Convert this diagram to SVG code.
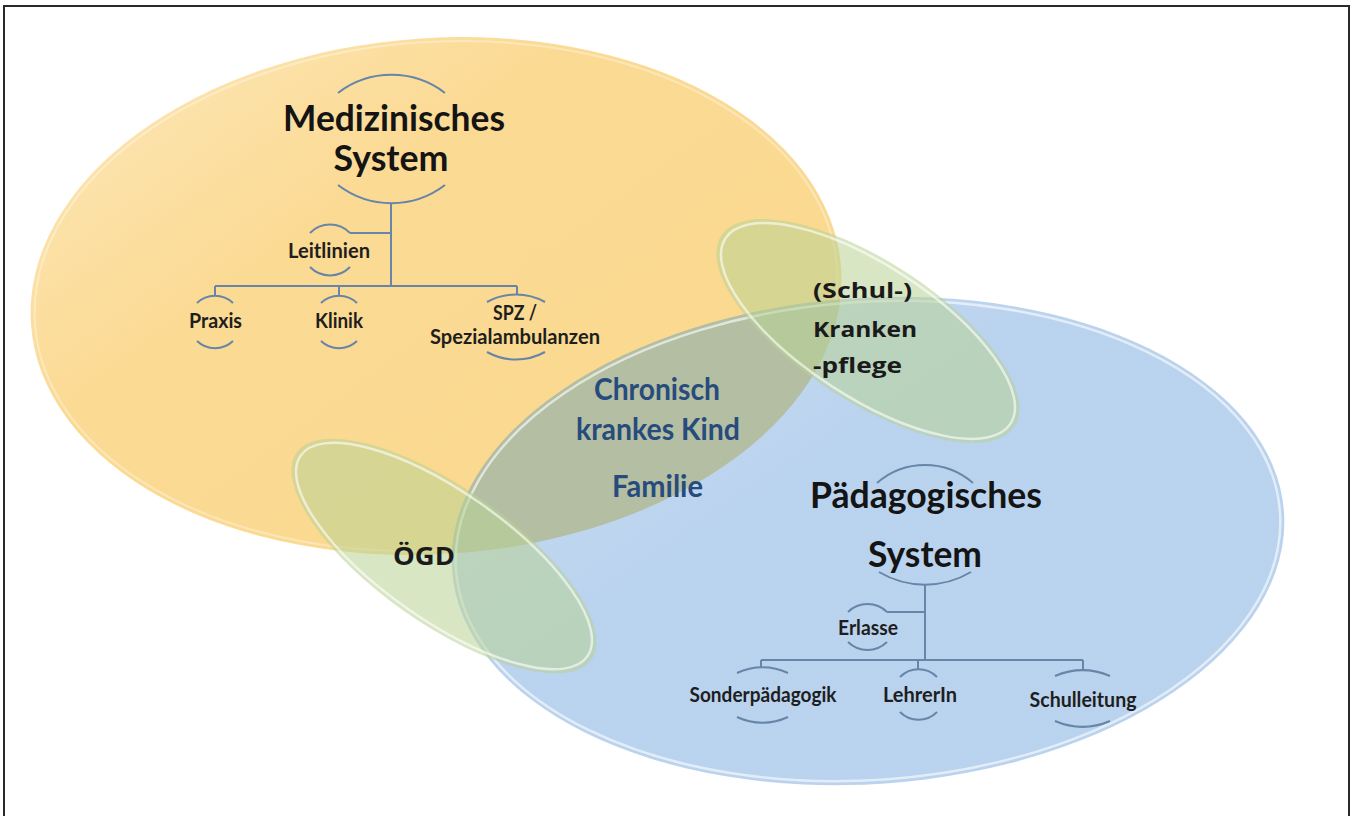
<svg xmlns="http://www.w3.org/2000/svg" width="1357" height="816" viewBox="0 0 1357 816">
  <defs>
    <linearGradient id="gOrange" x1="0" y1="0" x2="1" y2="1">
      <stop offset="0" stop-color="#FDE8BA"/>
      <stop offset="0.35" stop-color="#FBDA94"/>
      <stop offset="1" stop-color="#FAD88E"/>
    </linearGradient>
    <linearGradient id="gBlue" x1="0" y1="0" x2="1" y2="1">
      <stop offset="0" stop-color="#7FAEE0"/>
      <stop offset="0.4" stop-color="#5A95D6"/>
      <stop offset="1" stop-color="#5A95D6"/>
    </linearGradient>
    <clipPath id="clipOrange">
      <ellipse cx="436" cy="296" rx="406" ry="258" transform="rotate(-4 436 296)"/>
    </clipPath>
    <style>
      .ttl{font-family:Lato,"Noto Sans","Liberation Sans",sans-serif;font-weight:700;font-size:36px;fill:#141414;text-anchor:middle}
      .sub{font-family:Lato,"Noto Sans","Liberation Sans",sans-serif;font-weight:700;font-size:20px;fill:#1e1e1e;text-anchor:middle}
      .mid{font-family:Lato,"Noto Sans","Liberation Sans",sans-serif;font-weight:700;font-size:30px;fill:#274B7C;text-anchor:middle}
      .ov{font-family:"Open Sans","DejaVu Sans",sans-serif;font-weight:700;font-size:22px;fill:#1a1a1a}
      .ov24{font-size:25px}
      .arc{fill:none;stroke:#6685A8;stroke-width:2}
      .con{fill:none;stroke:#6685A8;stroke-width:2}
      .green{fill:#B8D294;fill-opacity:0.55}
      .rim{fill:none;stroke:#ffffff;stroke-opacity:0.6;stroke-width:2.5}
    </style>
  </defs>

  <rect x="4" y="6" width="1345" height="830" fill="#ffffff" stroke="#2a2a2a" stroke-width="2"/>

  <g id="medizinisches-feld">
    <ellipse cx="436" cy="296" rx="406" ry="258" transform="rotate(-4 436 296)" fill="url(#gOrange)"/>
    <ellipse cx="436" cy="296" rx="402" ry="254" transform="rotate(-4 436 296)" fill="none" stroke="#ffffff" stroke-opacity="0.35" stroke-width="2"/>
  </g>

  <g id="paedagogisches-feld">
    <ellipse cx="868" cy="541" rx="417" ry="243" transform="rotate(-4 868 541)" fill="url(#gBlue)" fill-opacity="0.42"/>
    <g clip-path="url(#clipOrange)">
      <ellipse cx="868" cy="541" rx="417" ry="243" transform="rotate(-4 868 541)" fill="#B4BEA2"/>
    </g>
    <ellipse cx="868" cy="541" rx="413" ry="239" transform="rotate(-4 868 541)" class="rim" stroke-opacity="0.45"/>
  </g>

  <g id="schulkrankenpflege-feld">
    <ellipse cx="868" cy="331" rx="175" ry="70" transform="rotate(33 868 331)" class="green"/>
    <ellipse cx="868" cy="331" rx="170" ry="66" transform="rotate(33 868 331)" class="rim"/>
  </g>

  <g id="oegd-feld">
    <ellipse cx="444" cy="556" rx="180" ry="68" transform="rotate(35 444 556)" class="green"/>
    <ellipse cx="444" cy="556" rx="175" ry="64" transform="rotate(35 444 556)" class="rim"/>
  </g>

  <g id="connectors">
    <path class="con" d="M391,203 V286"/>
    <path class="con" d="M391,233 H350"/>
    <path class="con" d="M215,286 H517"/>
    <path class="con" d="M215,286 V296 M339,286 V296 M517,286 V295"/>
    <path class="con" d="M925,584 V660"/>
    <path class="con" d="M925,612 H887"/>
    <path class="con" d="M761,660 H1083"/>
    <path class="con" d="M761,660 V668 M918,660 V669 M1083,660 V671"/>
  </g>

  <g id="node-medizinisches-system">
    <path class="arc" d="M338,93 A88,88 0 0 1 445,93"/>
    <path class="arc" d="M338,185 A88,88 0 0 0 445,185"/>
    <text class="ttl" x="394" y="131" textLength="222" lengthAdjust="spacingAndGlyphs">Medizinisches</text>
    <text class="ttl" x="391" y="171" textLength="115" lengthAdjust="spacingAndGlyphs">System</text>
  </g>

  <g id="node-leitlinien">
    <path class="arc" d="M310,233 A28,28 0 0 1 350,233"/>
    <path class="arc" d="M310,267 A28,28 0 0 0 350,267"/>
    <text class="sub" x="329" y="258" textLength="82" lengthAdjust="spacingAndGlyphs">Leitlinien</text>
  </g>

  <g id="node-praxis">
    <path class="arc" d="M197,303 A26,26 0 0 1 233,303"/>
    <path class="arc" d="M197,341 A26,26 0 0 0 233,341"/>
    <text class="sub" x="215.5" y="328" textLength="53" lengthAdjust="spacingAndGlyphs">Praxis</text>
  </g>

  <g id="node-klinik">
    <path class="arc" d="M321,303 A26,26 0 0 1 357,303"/>
    <path class="arc" d="M321,341 A26,26 0 0 0 357,341"/>
    <text class="sub" x="339" y="328" textLength="48" lengthAdjust="spacingAndGlyphs">Klinik</text>
  </g>

  <g id="node-spz">
    <path class="arc" d="M487,302 A60,60 0 0 1 545,302"/>
    <path class="arc" d="M487,352 A60,60 0 0 0 545,352"/>
    <text class="sub" x="515" y="320" textLength="44" lengthAdjust="spacingAndGlyphs">SPZ /</text>
    <text class="sub" x="515" y="344" textLength="170" lengthAdjust="spacingAndGlyphs">Spezialambulanzen</text>
  </g>

  <g id="node-schulkrankenpflege">
    <text class="ov" x="813" y="298" textLength="99" lengthAdjust="spacingAndGlyphs">(Schul-)</text>
    <text class="ov" x="813" y="337" textLength="104" lengthAdjust="spacingAndGlyphs">Kranken</text>
    <text class="ov" x="813" y="373" textLength="89" lengthAdjust="spacingAndGlyphs">-pflege</text>
  </g>

  <g id="node-kind-familie">
    <text class="mid" x="657" y="400" textLength="126" lengthAdjust="spacingAndGlyphs">Chronisch</text>
    <text class="mid" x="658" y="440" textLength="164" lengthAdjust="spacingAndGlyphs">krankes Kind</text>
    <text class="mid" x="657.5" y="497" textLength="91" lengthAdjust="spacingAndGlyphs">Familie</text>
  </g>

  <g id="node-oegd">
    <text class="ov ov24" x="393" y="565" textLength="62" lengthAdjust="spacingAndGlyphs">ÖGD</text>
  </g>

  <g id="node-paedagogisches-system">
    <path class="arc" d="M877,483 A73,73 0 0 1 973,483"/>
    <path class="arc" d="M879,572 A90,90 0 0 0 971,572"/>
    <text class="ttl" x="926" y="508" textLength="232" lengthAdjust="spacingAndGlyphs">Pädagogisches</text>
    <text class="ttl" x="925" y="567" textLength="114" lengthAdjust="spacingAndGlyphs">System</text>
  </g>

  <g id="node-erlasse">
    <path class="arc" d="M848,612 A28,28 0 0 1 887,612"/>
    <path class="arc" d="M848,642 A28,28 0 0 0 887,642"/>
    <text class="sub" x="868" y="635" textLength="60" lengthAdjust="spacingAndGlyphs">Erlasse</text>
  </g>

  <g id="node-sonderpaedagogik">
    <path class="arc" d="M737,673 A60,60 0 0 1 788,673"/>
    <path class="arc" d="M737,717 A60,60 0 0 0 788,717"/>
    <text class="sub" x="763" y="702" textLength="147" lengthAdjust="spacingAndGlyphs">Sonderpädagogik</text>
  </g>

  <g id="node-lehrerin">
    <path class="arc" d="M900,677 A26,26 0 0 1 937,677"/>
    <path class="arc" d="M900,712 A26,26 0 0 0 937,712"/>
    <text class="sub" x="920" y="702" textLength="74" lengthAdjust="spacingAndGlyphs">LehrerIn</text>
  </g>

  <g id="node-schulleitung">
    <path class="arc" d="M1055,676 A70,70 0 0 1 1110,676"/>
    <path class="arc" d="M1055,721 A70,70 0 0 0 1110,721"/>
    <text class="sub" x="1083" y="707" textLength="107" lengthAdjust="spacingAndGlyphs">Schulleitung</text>
  </g>
</svg>
